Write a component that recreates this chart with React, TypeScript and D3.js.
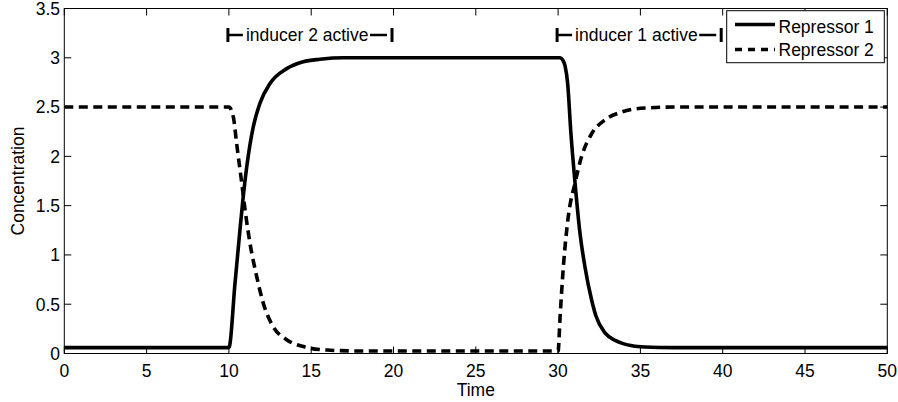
import React from "react";
import * as d3 from "d3";

// Repressor 1 (solid)
const r1Time = [0, 10, 10.37, 10.67, 10.87, 11.08, 11.48, 11.89, 12.5, 13.51, 14.52, 15.53, 17, 20, 25, 30, 30.12, 30.27, 30.42, 30.58, 30.78, 31.03, 31.33, 31.63, 32.04, 32.3, 32.85, 33.5, 33.86, 34.5, 35.28, 37, 40, 50];
const r1Value = [0.06, 0.06, 0.71, 1.25, 1.59, 1.89, 2.3, 2.54, 2.74, 2.89, 2.96, 2.985, 3.0, 3.0, 3.0, 3.0, 3.0, 2.98, 2.92, 2.74, 2.23, 1.73, 1.22, 0.88, 0.54, 0.38, 0.21, 0.13, 0.105, 0.078, 0.066, 0.06, 0.06, 0.06];

// Repressor 2 (dashed)
const r2Time = [0, 10, 10.27, 10.47, 10.78, 10.98, 11.28, 11.69, 12.09, 12.7, 13.51, 14.52, 15.94, 18, 25, 30, 30.12, 30.32, 30.62, 31.03, 31.43, 32.04, 32.85, 33.86, 35.28, 37, 50];
const r2Value = [2.5, 2.5, 2.4, 2.13, 1.73, 1.46, 1.12, 0.78, 0.51, 0.27, 0.14, 0.07, 0.035, 0.025, 0.025, 0.025, 0.37, 0.88, 1.39, 1.73, 2.0, 2.23, 2.37, 2.45, 2.49, 2.5, 2.5];

const xTicks = [0, 5, 10, 15, 20, 25, 30, 35, 40, 45, 50];
const yTicks = [0, 0.5, 1, 1.5, 2, 2.5, 3, 3.5];
const seriesNames = ["Repressor 1", "Repressor 2"];
const annotations = [
  { start: 10, end: 20, label: "inducer 2 active" },
  { start: 30, end: 40, label: "inducer 1 active" },
];

const W = 898;
const H = 402;
const L = 64.3, R = 887.3, T = 8.5, B = 353.5;
const FONT = "'Liberation Sans', Arial, Helvetica, sans-serif";
const FS = 17.5;

export default function App() {
  const x = d3.scaleLinear().domain([0, 50]).range([L, R]);
  const y = d3.scaleLinear().domain([0, 3.5]).range([B, T]);
  const line = d3
    .line<[number, number]>()
    .x((d) => x(d[0]))
    .y((d) => y(d[1]))
    .curve(d3.curveMonotoneX);
  const r1 = r1Time.map((t, i) => [t, r1Value[i]] as [number, number]);
  const r2 = r2Time.map((t, i) => [t, r2Value[i]] as [number, number]);
  const tickLen = 7;
  const dash = "9,5.5";

  return (
    <svg width={W} height={H} style={{ position: "absolute", left: 0, top: 0, background: "#fff" }} fontFamily={FONT}>
      <rect x={0} y={0} width={W} height={H} fill="#fff" />
      <defs>
        <clipPath id="plot">
          <rect x={L} y={T} width={R - L} height={B - T} />
        </clipPath>
      </defs>
      {/* ticks */}
      {xTicks.map((t) => (
        <g key={"x" + t}>
          <line x1={x(t)} x2={x(t)} y1={B} y2={B - tickLen} stroke="#000" strokeWidth={1} />
          <line x1={x(t)} x2={x(t)} y1={T} y2={T + tickLen} stroke="#000" strokeWidth={1} />
          <text x={x(t)} y={377} textAnchor="middle" fontSize={FS} fill="#000">
            {t}
          </text>
        </g>
      ))}
      {yTicks.map((v) => (
        <g key={"y" + v}>
          <line x1={L} x2={L + tickLen} y1={y(v)} y2={y(v)} stroke="#000" strokeWidth={1} />
          <line x1={R} x2={R - tickLen} y1={y(v)} y2={y(v)} stroke="#000" strokeWidth={1} />
          <text x={60} y={y(v)} dy="0.36em" textAnchor="end" fontSize={FS} fill="#000">
            {v}
          </text>
        </g>
      ))}
      {/* lines */}
      <g clipPath="url(#plot)">
        <path d={line(r1) || ""} fill="none" stroke="#000" strokeWidth={3.6} strokeLinejoin="round" />
        <path d={line(r2) || ""} fill="none" stroke="#000" strokeWidth={3.6} strokeDasharray={dash} />
      </g>
      {/* box */}
      <rect x={L} y={T} width={R - L} height={B - T} fill="none" stroke="#000" strokeWidth={1} />
      {/* annotations */}
      {annotations.map((a) => {
        const xs = x(a.start) - 1;
        const xe = x(a.end) - 1.5;
        return (
          <g key={a.label}>
            <line x1={xs} x2={xs} y1={28} y2={42} stroke="#000" strokeWidth={3} />
            <line x1={xs} x2={xs + 15} y1={35} y2={35} stroke="#000" strokeWidth={2.5} />
            <text x={xs + 18} y={40.5} fontSize={FS} fill="#000">
              {a.label}
            </text>
            <line x1={xe - 22} x2={xe - 5} y1={35} y2={35} stroke="#000" strokeWidth={2.5} />
            <line x1={xe} x2={xe} y1={28} y2={42} stroke="#000" strokeWidth={3} />
          </g>
        );
      })}
      {/* legend */}
      <rect x={726.7} y={10.7} width={157.6} height={52} fill="#fff" stroke="#000" strokeWidth={1} />
      <line x1={735} x2={775} y1={24.5} y2={24.5} stroke="#000" strokeWidth={3.6} />
      <text x={778.5} y={32.5} fontSize={FS} fill="#000">{seriesNames[0]}</text>
      <line x1={735} x2={775} y1={49.5} y2={49.5} stroke="#000" strokeWidth={3.6} strokeDasharray="7,6" />
      <text x={778.5} y={55.5} fontSize={FS} fill="#000">{seriesNames[1]}</text>
      {/* axis labels */}
      <text x={(L + R) / 2} y={396} textAnchor="middle" fontSize={FS} fill="#000">
        Time
      </text>
      <text transform={`translate(24,${(T + B) / 2}) rotate(-90)`} textAnchor="middle" fontSize={FS} fill="#000">
        Concentration
      </text>
    </svg>
  );
}
